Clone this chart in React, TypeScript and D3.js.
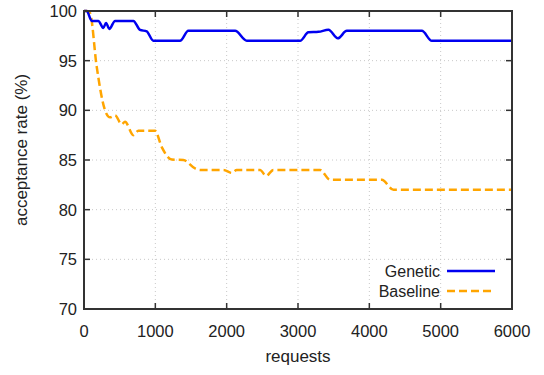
import React from "react";
import * as d3 from "d3";

const geneticX = [0, 38, 108, 200, 271, 309, 355, 435, 692, 785, 879, 972, 1346, 1463, 2118, 2282, 3030, 3146, 3287, 3427, 3558, 3684, 4736, 4876, 6000];
const geneticY = [100, 100, 99, 99, 98.3, 98.8, 98.2, 99, 99, 98.1, 97.95, 97, 97, 98, 98, 97, 97, 97.85, 97.9, 98.1, 97.25, 98, 98, 97, 97];

const baselineX = [0, 38, 84, 178, 295, 365, 435, 528, 575, 692, 762, 995, 1090, 1230, 1393, 1557, 1627, 1954, 2072, 2141, 2468, 2553, 2655, 3310, 3450, 4175, 4338, 6000];
const baselineY = [100, 100, 99.8, 94.4, 90.0, 89.3, 89.5, 88.6, 88.85, 87.5, 87.95, 87.95, 86.3, 85.05, 85.0, 84.15, 84.0, 84.0, 83.7, 84.0, 84.0, 83.4, 84.0, 84.0, 83.0, 83.0, 82.0, 82.0];

const xTicks = [0, 1000, 2000, 3000, 4000, 5000, 6000];
const yTicks = [70, 75, 80, 85, 90, 95, 100];
const seriesNames = ["Genetic", "Baseline"];

const W = 544, H = 375;
const left = 84, right = 512, top = 11, bottom = 309;

export default function App() {
  const x = d3.scaleLinear().domain([0, 6000]).range([left, right]);
  const y = d3.scaleLinear().domain([70, 100]).range([bottom, top]);
  const line = d3.line<[number, number]>().x(d => x(d[0])).y(d => y(d[1])).curve(d3.curveMonotoneX);
  const gData = geneticX.map((v, i) => [v, geneticY[i]] as [number, number]);
  const bData = baselineX.map((v, i) => [v, baselineY[i]] as [number, number]);
  const font = "Liberation Sans, Arial, sans-serif";
  const axisColor = "#333";
  const tickLen = 6;
  return (
    <svg width={W} height={H} style={{ position: "absolute", left: 0, top: 0 }} fontFamily={font}>
      <rect width={W} height={H} fill="#fff" />
      {xTicks.slice(1, -1).map(t => (
        <line key={"gx" + t} x1={x(t)} x2={x(t)} y1={top} y2={bottom} stroke="#c8c8c8" strokeWidth={1} strokeDasharray="1,3" />
      ))}
      {yTicks.slice(1, -1).map(t => (
        <line key={"gy" + t} x1={left} x2={right} y1={y(t)} y2={y(t)} stroke="#c8c8c8" strokeWidth={1} strokeDasharray="1,3" />
      ))}
      {xTicks.map(t => (
        <g key={"tx" + t}>
          <line x1={x(t)} x2={x(t)} y1={bottom} y2={bottom - tickLen} stroke={axisColor} strokeWidth={1.5} />
          <line x1={x(t)} x2={x(t)} y1={top} y2={top + tickLen} stroke={axisColor} strokeWidth={1.5} />
          <text x={x(t)} y={337} textAnchor="middle" fontSize={16.5} fill="#222">{t}</text>
        </g>
      ))}
      {yTicks.map(t => (
        <g key={"ty" + t}>
          <line x1={left} x2={left + tickLen} y1={y(t)} y2={y(t)} stroke={axisColor} strokeWidth={1.5} />
          <line x1={right} x2={right - tickLen} y1={y(t)} y2={y(t)} stroke={axisColor} strokeWidth={1.5} />
          <text x={77} y={y(t) + 6} textAnchor="end" fontSize={16.5} fill="#222">{t}</text>
        </g>
      ))}
      <path d={line(bData) || ""} fill="none" stroke="#ffa500" strokeWidth={2.5} strokeDasharray="8,4" />
      <path d={line(gData) || ""} fill="none" stroke="#0000f0" strokeWidth={2.5} />
      <rect x={left} y={top} width={right - left} height={bottom - top} fill="none" stroke={axisColor} strokeWidth={2} />
      <text x={440} y={277} textAnchor="end" fontSize={16} fill="#222">{seriesNames[0]}</text>
      <line x1={447} x2={495} y1={271} y2={271} stroke="#0000f0" strokeWidth={2.5} />
      <text x={440} y={297} textAnchor="end" fontSize={16} fill="#222">{seriesNames[1]}</text>
      <line x1={447} x2={495} y1={291} y2={291} stroke="#ffa500" strokeWidth={2.5} strokeDasharray="8,4" />
      <text x={298} y={362} textAnchor="middle" fontSize={17} fill="#222">requests</text>
      <text transform="translate(27,150) rotate(-90)" textAnchor="middle" fontSize={17} fill="#222">acceptance rate (%)</text>
    </svg>
  );
}
